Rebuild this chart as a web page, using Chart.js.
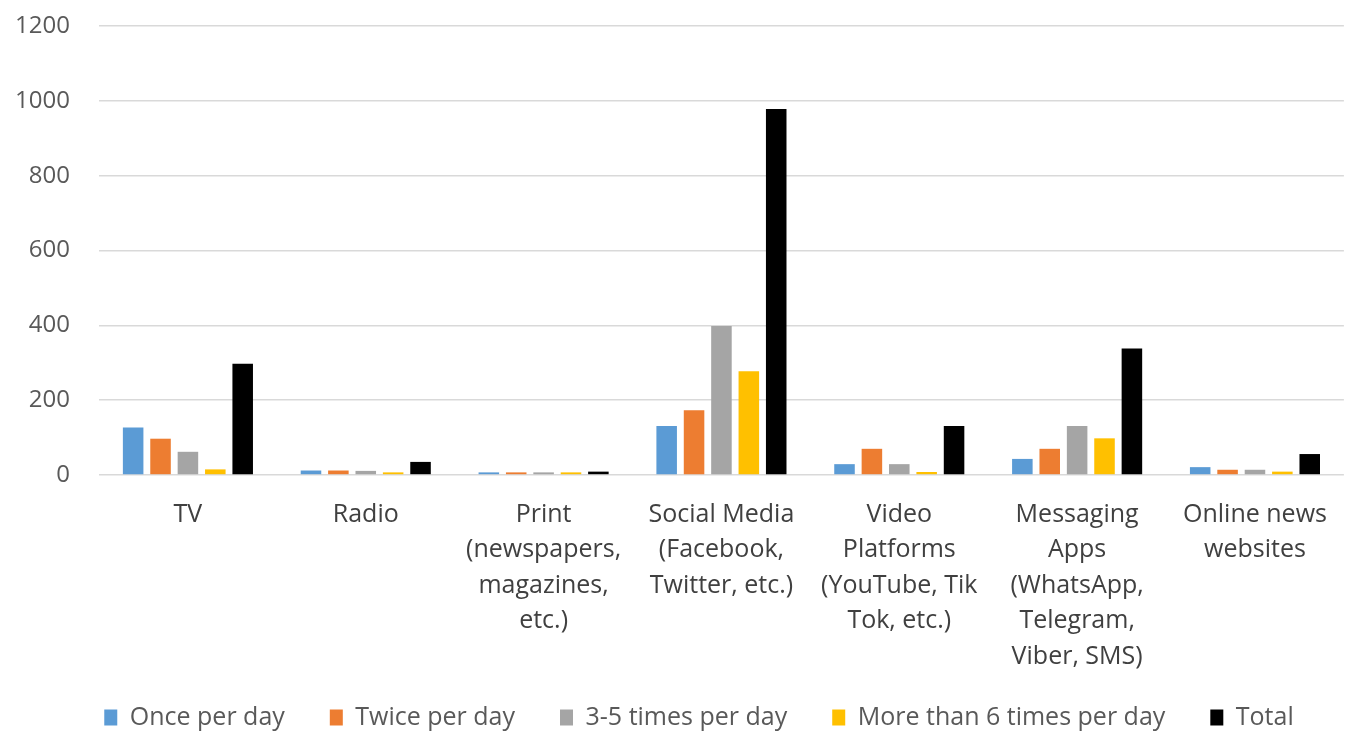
<!DOCTYPE html>
<html>
<head>
<meta charset="utf-8">
<title>News consumption frequency by source</title>
<script src="https://cdn.jsdelivr.net/npm/chart.js@4/dist/chart.umd.min.js"></script>
<style>
  html, body { margin: 0; padding: 0; background: #ffffff; overflow: hidden; }
  #wrap { width: 1349px; height: 731px; overflow: hidden; }
  canvas { display: block; }
</style>
</head>
<body>
<div id="wrap"><canvas id="chart" width="1349" height="740"></canvas></div>
<script>
// Media sources (multi-line category labels)
const categories = [
  ["TV"],
  ["Radio"],
  ["Print", "(newspapers,", "magazines,", "etc.)"],
  ["Social Media", "(Facebook,", "Twitter, etc.)"],
  ["Video", "Platforms", "(YouTube, Tik", "Tok, etc.)"],
  ["Messaging", "Apps", "(WhatsApp,", "Telegram,", "Viber, SMS)"],
  ["Online news", "websites"]
];

// Respondents per frequency of use
const oncePerDay      = [127, 12, 7, 131, 29, 43, 21];
const twicePerDay     = [97, 12, 7, 173, 70, 70, 14];
const threeToFive     = [62, 11, 7, 398, 29, 131, 14];
const moreThanSix     = [15, 7, 7, 277, 8, 98, 9];
const totals          = [297, 35, 9, 978, 131, 338, 56];

const seriesNames = ["Once per day", "Twice per day", "3-5 times per day", "More than 6 times per day", "Total"];
const seriesColors = ["#5B9BD5", "#ED7D31", "#A5A5A5", "#FFC000", "#000000"];
const seriesValues = [oncePerDay, twicePerDay, threeToFive, moreThanSix, totals];

const yTicks = [0, 200, 400, 600, 800, 1000, 1200];

const FONT = "'Open Sans', 'DejaVu Sans', sans-serif";

// After layout: centre the legend row under the bars, and let the category
// axis reach a little lower so its five-line label is not clipped.
const layoutTweaks = {
  id: "layoutTweaks",
  afterLayout(chart) {
    const lg = chart.legend;
    if (lg) {
      lg.left += 22;
      lg.right += 22;
    }
    const x = chart.scales.x;
    if (x) {
      x.bottom += 16;
      x.height += 16;
    }
  }
};

new Chart(document.getElementById("chart"), {
  type: "bar",
  data: {
    labels: categories,
    datasets: seriesNames.map((name, i) => ({
      label: name,
      data: seriesValues[i],
      backgroundColor: seriesColors[i],
      borderWidth: 0,
      categoryPercentage: 0.77,
      barPercentage: 0.75
    }))
  },
  plugins: [layoutTweaks],
  options: {
    responsive: false,
    animation: false,
    devicePixelRatio: 1,
    layout: { padding: { top: 26, right: 1, bottom: 0, left: 6 } },
    plugins: {
      tooltip: { enabled: false },
      legend: {
        position: "bottom",
        labels: {
          font: { family: FONT, size: 25 },
          color: "#595959",
          boxWidth: 13,
          boxHeight: 16,
          padding: 45
        }
      }
    },
    scales: {
      x: {
        grid: { display: false, drawTicks: false },
        border: { display: false },
        ticks: {
          font: { family: FONT, size: 25, lineHeight: 1.42 },
          color: "#404040",
          padding: 22,
          maxRotation: 0,
          autoSkip: false
        },
        afterFit(scale) { scale.height = 185; }
      },
      y: {
        min: yTicks[0],
        max: yTicks[yTicks.length - 1],
        afterBuildTicks(scale) { scale.ticks = yTicks.map(v => ({ value: v })); },
        grid: {
          color: "#D9D9D9",
          lineWidth: 1.6,
          drawTicks: true,
          tickLength: 29,
          tickColor: "rgba(0,0,0,0)"
        },
        border: { display: false },
        ticks: {
          font: { family: FONT, size: 24 },
          color: "#595959",
          padding: 0,
          callback: (v) => String(v)
        },
        afterFit(scale) { scale.width = 93; }
      }
    }
  }
});
</script>
</body>
</html>
